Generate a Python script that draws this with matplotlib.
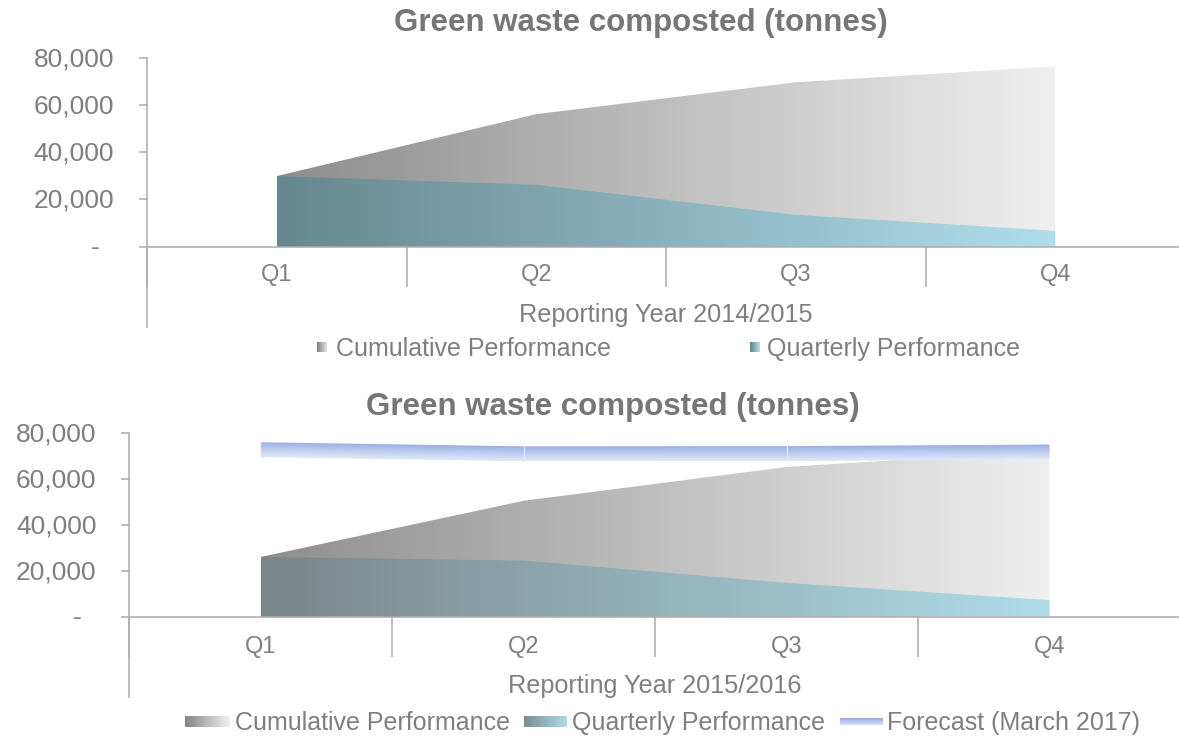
import numpy as np
import matplotlib
matplotlib.use('Agg')
import matplotlib.pyplot as plt
from matplotlib.colors import LinearSegmentedColormap
from matplotlib.patches import Polygon
from matplotlib import transforms

# ---------------- data ----------------
quarters = ['Q1', 'Q2', 'Q3', 'Q4']
chart_title = 'Green waste composted (tonnes)'
year_top = 'Reporting Year 2014/2015'
year_bottom = 'Reporting Year 2015/2016'
cum_1415 = [29900, 56100, 69600, 76300]
qtr_1415 = [29900, 26200, 13500, 6700]
cum_1516 = [26000, 50400, 65100, 72300]
qtr_1516 = [26000, 24400, 14700, 7200]
forecast_1516 = [72600, 70800, 70900, 71600]
y_ticks = [0, 20000, 40000, 60000, 80000]
y_tick_labels = ['-', '20,000', '40,000', '60,000', '80,000']
legend_top = ['Cumulative Performance', 'Quarterly Performance']
legend_bottom = ['Cumulative Performance', 'Quarterly Performance', 'Forecast (March 2017)']

# ---------------- style ----------------
W, H, DPI = 1179, 740, 100
plt.rcParams['font.family'] = ['Liberation Sans', 'DejaVu Sans']
TXT = '#7f7f7f'
TITLE_C = '#767676'
AXC = '#ababab'
LW = 1.1
FS_Y, FS_Q, FS_YR, FS_LEG, FS_T = 19, 17, 18.2, 18, 22.5

fig = plt.figure(figsize=(W / DPI, H / DPI), dpi=DPI)

ov = fig.add_axes([0, 0, 1, 1], zorder=10)
ov.patch.set_alpha(0)
ov.axis('off')


def px_axes(left, right, top, bottom):
    return fig.add_axes([left / W, 1 - bottom / H, (right - left) / W, (bottom - top) / H])


def grad_area(ax, y, c0, c1, z):
    x = np.arange(len(y))
    verts = [(x[0], 0)] + list(zip(x, y)) + [(x[-1], 0)]
    patch = Polygon(verts, closed=True, facecolor='none', edgecolor='none', zorder=z)
    ax.add_patch(patch)
    cmap = LinearSegmentedColormap.from_list('g', [c0, c1])
    g = np.linspace(0, 1, 256).reshape(1, -1)
    im = ax.imshow(g, cmap=cmap, aspect='auto', extent=(x[0], x[-1], 0, max(y)),
                   origin='lower', zorder=z, interpolation='bilinear')
    im.set_clip_path(patch)


def band(ax, y, hw, c0, c1, z):
    x = np.arange(len(y))
    yv = np.asarray(y, float)
    verts = list(zip(x, yv + hw)) + list(zip(x[::-1], (yv - hw)[::-1]))
    patch = Polygon(verts, closed=True, facecolor='none', edgecolor='none', zorder=z)
    ax.add_patch(patch)
    xs = np.linspace(x[0], x[-1], 600)
    lo, hi = yv.min() - hw, yv.max() + hw
    ys = np.linspace(lo, hi, 300)
    X, Y = np.meshgrid(xs, ys)
    C = np.interp(X, x, yv)
    T = np.clip((C + hw - Y) / (2 * hw), 0, 1)
    cmap = LinearSegmentedColormap.from_list('b', [c0, '#bccbef', c1])
    im = ax.imshow(T, cmap=cmap, aspect='auto', extent=(x[0], x[-1], lo, hi),
                   origin='lower', zorder=z, interpolation='bilinear', vmin=0, vmax=1)
    im.set_clip_path(patch)
    for xi in x[1:-1]:
        ax.plot([xi, xi], [yv[xi] - hw, yv[xi] + hw], color='#e4eaf8', lw=0.8, zorder=z + 0.1)


def setup(ax, q_off, yr_off, year_label):
    ax.set_xlim(-0.5, 3.5)
    ax.set_ylim(0, 80000)
    ax.patch.set_alpha(0)
    for s in ['top', 'right']:
        ax.spines[s].set_visible(False)
    for s in ['left', 'bottom']:
        ax.spines[s].set_color(AXC)
        ax.spines[s].set_linewidth(LW)
    ax.set_xticks([-0.5, 0.5, 1.5, 2.5, 3.5])
    ax.set_xticklabels([])
    ax.tick_params(axis='x', direction='out', length=40 * 0.72, width=LW, color=AXC)
    ax.set_yticks(y_ticks)
    ax.set_yticklabels([])
    ax.tick_params(axis='y', direction='out', length=8 * 0.72, width=LW, color=AXC)
    tr_y = transforms.offset_copy(ax.get_yaxis_transform(), fig=fig, x=-33, y=-1.5, units='dots')
    tr_y0 = transforms.offset_copy(ax.get_yaxis_transform(), fig=fig, x=-52, y=-1.5, units='dots')
    for v, lab in zip(y_ticks, y_tick_labels):
        if lab == '-':
            ax.text(0, v, lab, transform=tr_y0, ha='center', va='center', fontsize=FS_Y, color=TXT)
        else:
            ax.text(0, v, lab, transform=tr_y, ha='right', va='center', fontsize=FS_Y, color=TXT)
    tr_q = transforms.offset_copy(ax.get_xaxis_transform(), fig=fig, x=0, y=-q_off, units='dots')
    for i, q in enumerate(quarters):
        ax.text(i, 0, q, transform=tr_q, ha='center', va='center', fontsize=FS_Q, color=TXT)
    tr_yr = transforms.offset_copy(ax.transAxes, fig=fig, x=0, y=-yr_off, units='dots')
    ax.text(0.5, 0, year_label, transform=tr_yr, ha='center', va='center', fontsize=FS_YR, color=TXT)


# ---------------- top chart ----------------
ax1 = px_axes(147, 1185, 57.7, 246.7)
grad_area(ax1, cum_1415, '#8d8d8d', '#efefef', 1)
grad_area(ax1, qtr_1415, '#668790', '#afdeea', 2)
setup(ax1, 28, 68, year_top)
ov.plot([147, 147], [246.7, 328], color=AXC, lw=LW, solid_capstyle='butt')
fig.text(641 / W, 1 - 23 / H, chart_title, ha='center', va='center', fontsize=FS_T,
         fontweight='bold', color=TITLE_C)

# ---------------- bottom chart ----------------
ax2 = px_axes(129.4, 1181, 432.7, 616.7)
grad_area(ax2, cum_1516, '#8e8e8e', '#efefef', 1)
grad_area(ax2, qtr_1516, '#7a868a', '#aedde9', 2)
hw = 7.5 * 80000 / (616.7 - 432.7)
band(ax2, forecast_1516, hw, '#96aae3', '#e0e8f8', 3)
setup(ax2, 30, 69, year_bottom)
ov.plot([129.4, 129.4], [616.7, 698], color=AXC, lw=LW, solid_capstyle='butt')
fig.text(613 / W, 1 - 407 / H, chart_title, ha='center', va='center', fontsize=FS_T,
         fontweight='bold', color=TITLE_C)

for a in (ax1, ax2):
    a.set_xlim(-0.5, 3.5)
    a.set_ylim(0, 80000)


# ---------------- legends (overlay, pixel coords) ----------------
def legend_patch(x0, x1, y0, y1, c0, c1, vertical=False):
    cmap = LinearSegmentedColormap.from_list('l', [c0, c1])
    if vertical:
        g = np.linspace(0, 1, 64).reshape(-1, 1)
    else:
        g = np.linspace(0, 1, 64).reshape(1, -1)
    ov.imshow(g, cmap=cmap, aspect='auto', extent=(x0, x1, y1, y0), origin='upper',
              interpolation='bilinear')


# top legend
legend_patch(317, 327, 342, 352, '#7d7d7d', '#e3e3e3')
ov.text(336, 349, legend_top[0], ha='left', va='center', fontsize=FS_LEG, color=TXT)
legend_patch(750, 760, 342, 352, '#5b818b', '#b3e1ea')
ov.text(767, 349, legend_top[1], ha='left', va='center', fontsize=FS_LEG, color=TXT)

# bottom legend
legend_patch(185, 230, 716, 727, '#858585', '#f0f0f0')
ov.text(235, 723, legend_bottom[0], ha='left', va='center', fontsize=FS_LEG, color=TXT)
legend_patch(524, 567, 716, 727, '#7d8c91', '#a9dde8')
ov.text(572, 723, legend_bottom[1], ha='left', va='center', fontsize=FS_LEG, color=TXT)
legend_patch(840, 883, 718, 725, '#93a9e3', '#d9e3f7', vertical=True)
ov.text(887, 723, legend_bottom[2], ha='left', va='center', fontsize=FS_LEG, color=TXT)

ov.set_xlim(0, W)
ov.set_ylim(H, 0)

fig.savefig('out.png', dpi=DPI)
